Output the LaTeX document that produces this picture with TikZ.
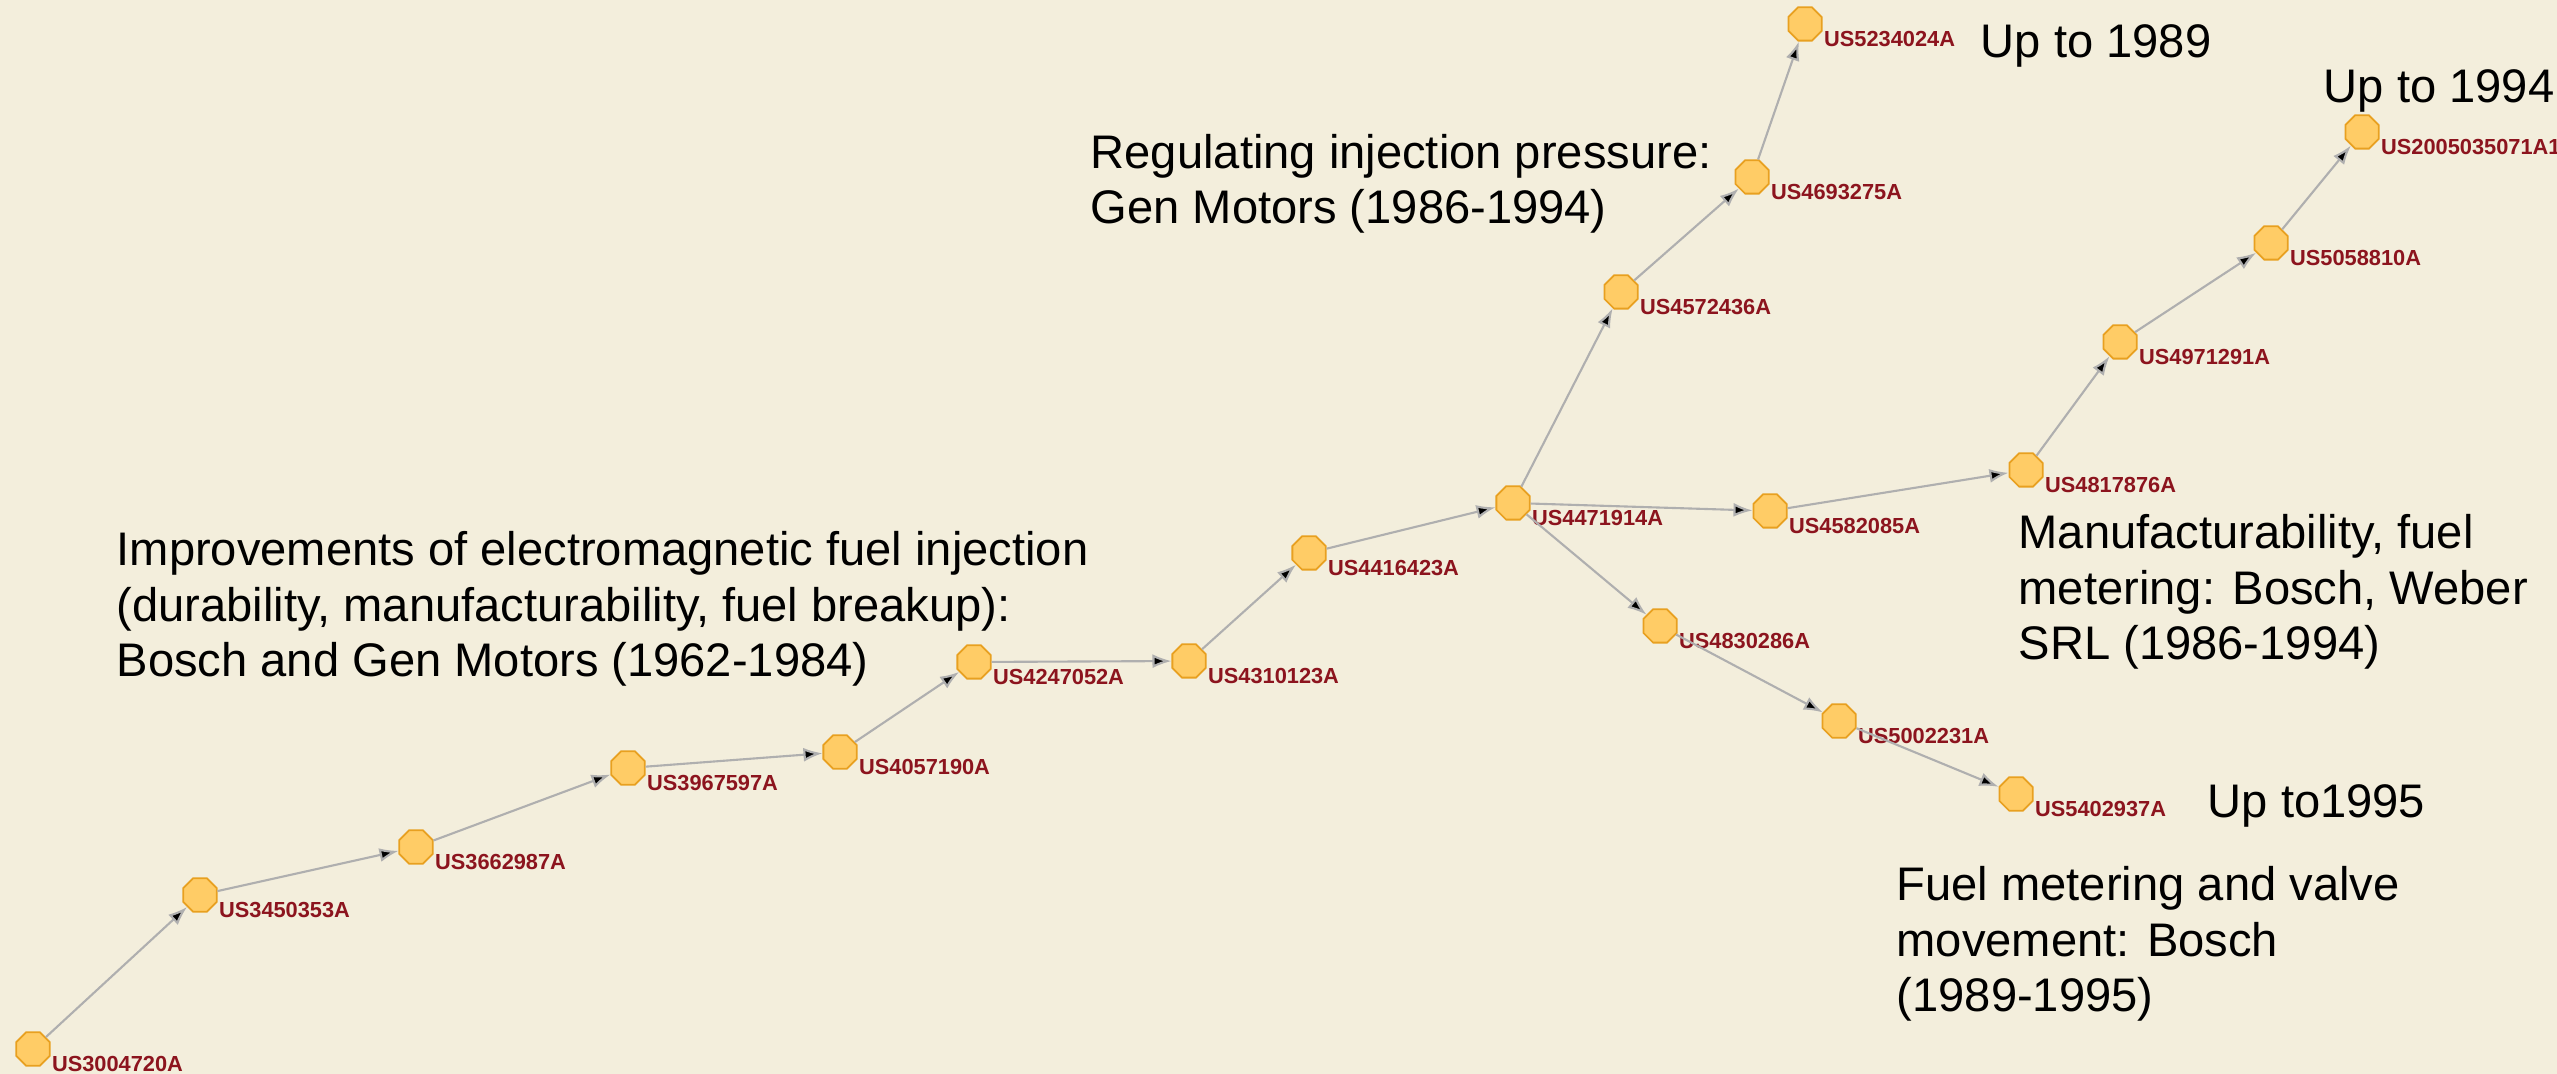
\documentclass[tikz,border=0pt]{standalone}
\usepackage{fontspec}
\setmainfont{Liberation Sans}
\usepackage{xcolor}
\usepackage{tikz}
\usetikzlibrary{shapes.geometric,arrows.meta}
\definecolor{bgcream}{RGB}{243,238,220}
\definecolor{nodefill}{RGB}{255,204,102}
\definecolor{nodeedge}{RGB}{232,160,32}
\definecolor{labelred}{RGB}{140,20,30}
\definecolor{linkgray}{RGB}{175,175,175}

\begin{document}
\begin{tikzpicture}[x=0.01cm,y=-0.01cm,
  patent/.style={regular polygon,regular polygon sides=8,draw=nodeedge,
                 fill=nodefill,line width=0.5pt,minimum size=3.6mm,inner sep=0pt},
  every label/.style={text=labelred,inner sep=0pt,anchor=base west,
                      xshift=0.6mm,yshift=-1.0mm,
                      font=\fontsize{6.2}{7}\selectfont\bfseries},
  link/.style={draw=linkgray,line width=0.6pt,
               -{Latex[length=1.9mm,width=1.4mm]}},
  note/.style={inner sep=0pt,anchor=base west,align=left,
               font=\fontsize{13.4}{15.9}\selectfont}]
  \useasboundingbox (0,0) rectangle (2557,1074);
  \fill[bgcream] (0,0) rectangle (2557,1074);

  % main chain
  \node[patent,label=-45:US3004720A] (us3004720) at (33,1049) {};
  \node[patent,label=-45:US3450353A] (us3450353) at (200,895) {};
  \node[patent,label=-45:US3662987A] (us3662987) at (416,847) {};
  \node[patent,label=-45:US3967597A] (us3967597) at (628,768) {};
  \node[patent,label=-45:US4057190A] (us4057190) at (840,752) {};
  \node[patent,label=-45:US4247052A] (us4247052) at (974,662) {};
  \node[patent,label=-45:US4310123A] (us4310123) at (1189,661) {};
  \node[patent,label=-45:US4416423A] (us4416423) at (1309,553) {};
  \node[patent,label=-45:US4471914A] (us4471914) at (1513,503) {};
  % upper branch
  \node[patent,label=-45:US4572436A] (us4572436) at (1621,292) {};
  \node[patent,label=-45:US4693275A] (us4693275) at (1752,177) {};
  \node[patent,label=-45:US5234024A] (us5234024) at (1805,24) {};
  % right branch
  \node[patent,label=-45:US4582085A] (us4582085) at (1770,511) {};
  \node[patent,label=-45:US4817876A] (us4817876) at (2026,470) {};
  \node[patent,label=-45:US4971291A] (us4971291) at (2120,342) {};
  \node[patent,label=-45:US5058810A] (us5058810) at (2271,243) {};
  \node[patent,label=-45:US2005035071A1] (us2005035071) at (2362,132) {};
  % lower branch
  \node[patent,label=-45:US4830286A] (us4830286) at (1660,626) {};
  \node[patent,label=-45:US5002231A] (us5002231) at (1839,721) {};
  \node[patent,label=-45:US5402937A] (us5402937) at (2016,794) {};

  \path[link] (us3004720) edge (us3450353)
              (us3450353) edge (us3662987)
              (us3662987) edge (us3967597)
              (us3967597) edge (us4057190)
              (us4057190) edge (us4247052)
              (us4247052) edge (us4310123)
              (us4310123) edge (us4416423)
              (us4416423) edge (us4471914)
              (us4471914) edge (us4572436)
              (us4572436) edge (us4693275)
              (us4693275) edge (us5234024)
              (us4471914) edge (us4582085)
              (us4582085) edge (us4817876)
              (us4817876) edge (us4971291)
              (us4971291) edge (us5058810)
              (us5058810) edge (us2005035071)
              (us4471914) edge (us4830286)
              (us4830286) edge (us5002231)
              (us5002231) edge (us5402937);

  % annotations (anchored at the last line's baseline)
  \node[note] (t1989) at (1980,58) {Up to 1989};
  \node[note] (t1994) at (2323,103) {Up to 1994};
  \node[note] (t1995) at (2207,818) {Up to1995};
  \node[note] (tpressure) at (1090,224)
    {Regulating injection pressure:\\ Gen Motors (1986-1994)};
  \node[note] (timprove) at (116,677)
    {Improvements of electromagnetic fuel injection\\
     (durability, manufacturability, fuel breakup):\\
     Bosch and Gen Motors (1962-1984)};
  \node[note] (tmanuf) at (2018,660)
    {Manufacturability, fuel\\ metering: Bosch, Weber\\ SRL (1986-1994)};
  \node[note] (tmetering) at (1896,1012)
    {Fuel metering and valve\\ movement: Bosch\\ (1989-1995)};
\end{tikzpicture}
\end{document}
